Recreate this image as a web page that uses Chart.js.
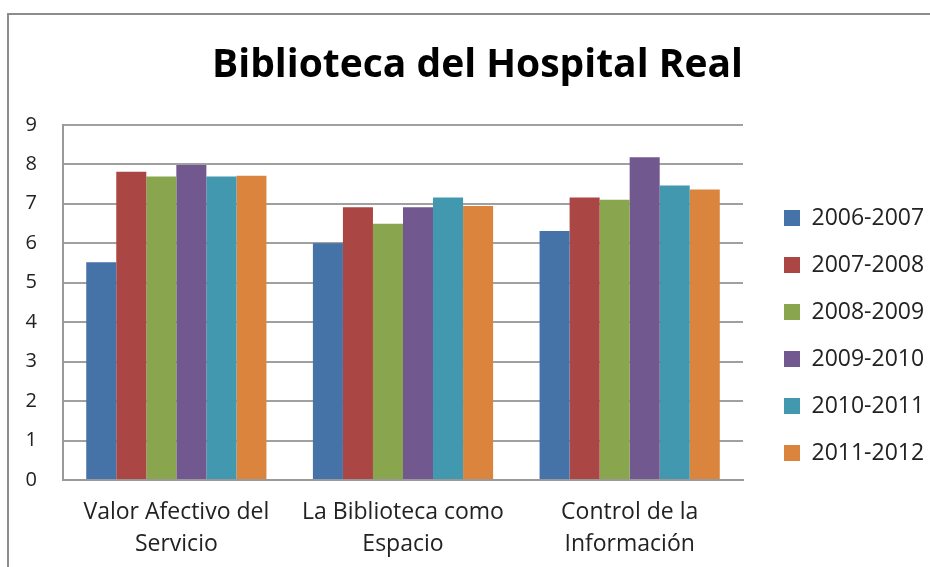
<!DOCTYPE html>
<html>
<head>
<meta charset="utf-8">
<script src="https://cdn.jsdelivr.net/npm/chart.js@4/dist/chart.umd.min.js"></script>
<style>
  html, body { margin: 0; padding: 0; background: #fff; }
  #marco { position: absolute; left: 0; top: 0; width: 930px; height: 567px; overflow: hidden; }
  #borde { position: absolute; left: 7px; top: 13px; width: 960px; height: 600px; border-left: 2px solid #8c8c8c; border-top: 2px solid #8c8c8c; }
  canvas { position: absolute; left: 0; top: 0; }
</style>
</head>
<body>
<div id="marco">
  <div id="borde"></div>
  <canvas id="grafico" width="930" height="567"></canvas>
</div>
<script>
const categorias = [
    ['Valor Afectivo del', 'Servicio'],
    ['La Biblioteca como', 'Espacio'],
    ['Control de la', 'Información']
];
const cursos = ['2006-2007', '2007-2008', '2008-2009', '2009-2010', '2010-2011', '2011-2012'];
const valores2006 = [5.52, 6.0, 6.31];
const valores2007 = [7.81, 6.91, 7.16];
const valores2008 = [7.69, 6.49, 7.1];
const valores2009 = [7.98, 6.91, 8.18];
const valores2010 = [7.69, 7.16, 7.46];
const valores2011 = [7.71, 6.94, 7.36];
const colores = ['#4572A7', '#AA4643', '#89A54E', '#71588F', '#4198AF', '#DB843D'];
const serieValores = [valores2006, valores2007, valores2008, valores2009, valores2010, valores2011];

const fuente = "'Open Sans', 'DejaVu Sans', sans-serif";

const ctx = document.getElementById('grafico').getContext('2d');
new Chart(ctx, {
    type: 'bar',
    data: {
        labels: categorias,
        datasets: cursos.map((curso, i) => ({
            label: curso,
            data: serieValores[i],
            backgroundColor: colores[i],
            borderWidth: 0,
            barPercentage: 1,
            categoryPercentage: 0.795
        }))
    },
    options: {
        responsive: false,
        animation: false,
        layout: {
            padding: { left: 25, right: 0, top: 0, bottom: 7 }
        },
        scales: {
            x: {
                grid: { display: false, drawTicks: false },
                border: { color: '#999', width: 2 },
                ticks: {
                    color: '#222',
                    font: { family: fuente, size: 23, lineHeight: 1.4 },
                    padding: 16,
                    maxRotation: 0
                },
                afterFit(scale) {
                    scale.height = 80;
                    scale.paddingLeft = 0;
                    scale.paddingRight = 0;
                }
            },
            y: {
                min: 0,
                max: 9,
                ticks: {
                    stepSize: 1,
                    color: '#222',
                    font: { family: fuente, size: 20 },
                    padding: 26
                },
                grid: { color: '#a0a0a0', lineWidth: 2, drawTicks: false },
                border: { color: '#999', width: 2 },
                afterFit(scale) { scale.width = 38; }
            },
            // eje vacío a la derecha, solo para dejar hueco antes de la leyenda
            hueco: {
                type: 'linear',
                position: 'right',
                grid: { display: false, drawTicks: false },
                border: { display: false },
                ticks: { display: false },
                afterFit(scale) { scale.width = 17; }
            }
        },
        plugins: {
            title: {
                display: true,
                text: 'Biblioteca del Hospital Real',
                color: '#000',
                font: { family: fuente, size: 39, weight: 'bold' },
                padding: { top: 42, bottom: 36 }
            },
            legend: {
                position: 'right',
                align: 'start',
                maxWidth: 170,
                title: {
                    display: true,
                    text: ' ',
                    font: { size: 10 },
                    padding: { top: 170.5, bottom: 0 }
                },
                labels: {
                    color: '#222',
                    font: { family: fuente, size: 23 },
                    boxWidth: 16,
                    boxHeight: 16,
                    padding: 24
                }
            },
            tooltip: { enabled: false }
        }
    }
});
</script>
</body>
</html>
